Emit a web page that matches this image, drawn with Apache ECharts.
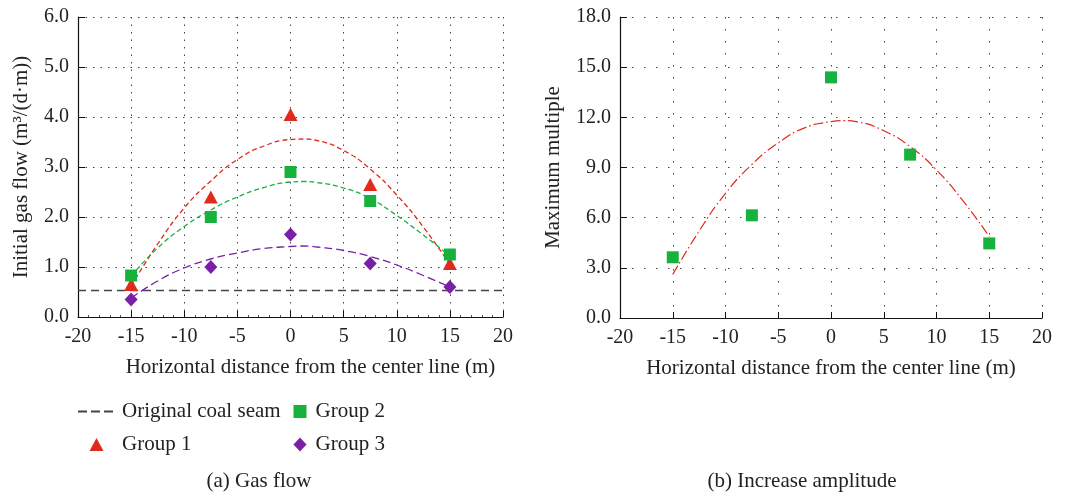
<!DOCTYPE html>
<html><head><meta charset="utf-8">
<script src="https://cdn.jsdelivr.net/npm/echarts@6/dist/echarts.min.js"></script>
<style>html,body{margin:0;padding:0;background:#fff}#c{width:1066px;height:496px}</style>
</head><body><div id="c"></div>
<script>
// Data
const xPos = [-15, -7.5, 0, 7.5, 15];
const group1 = [0.65, 2.4, 4.05, 2.65, 1.07];
const group2 = [0.83, 2.0, 2.9, 2.32, 1.25];
const group3 = [0.35, 1.0, 1.65, 1.07, 0.6];
const seamLevel = 0.53;
// fitted curves
const fitX = [-15, -12.5, -10, -7.5, -5, -2.5, 0, 1.25, 2.5, 5, 7.5, 10, 12.5, 15];
const fit1 = [0.62, 1.46, 2.18, 2.72, 3.15, 3.42, 3.55, 3.56, 3.53, 3.33, 2.96, 2.44, 1.80, 1.05];
const fit2 = [0.82, 1.38, 1.81, 2.14, 2.40, 2.59, 2.70, 2.71, 2.69, 2.58, 2.37, 2.03, 1.64, 1.22];
const fit3 = [0.38, 0.72, 0.98, 1.16, 1.28, 1.37, 1.41, 1.42, 1.40, 1.33, 1.21, 1.04, 0.83, 0.60];
const multiple = [3.63, 6.14, 14.39, 9.77, 4.46];
const fitMult = [2.6, 5.2, 7.45, 9.18, 10.47, 11.37, 11.74, 11.8, 11.73, 11.2, 10.25, 8.85, 7.02, 4.87];
const xTicks = [-20, 20, 5];

const pair = (xs, ys) => xs.map((x, i) => [x, ys[i]]);
const FONT = 'Liberation Serif';
const RED = '#e02a1c', GREEN = '#16b23b', PURPLE = '#7a20a6';
const TXT = '#222';

function xAxisCfg(gi, gridDash, minor) {
  return {
    gridIndex: gi, type: 'value', min: xTicks[0], max: xTicks[1], interval: xTicks[2],
    name: 'Horizontal distance from the center line (m)', nameLocation: 'middle', nameGap: 40,
    nameTextStyle: {fontFamily: FONT, fontSize: 21, color: TXT, padding: gi === 0 ? [0, 0, 0, 40] : 0},
    axisLine: {onZero: false, lineStyle: {color: '#111', width: 1.2}},
    axisTick: {inside: true, length: 6, lineStyle: {color: '#111'}},
    minorTick: {show: minor, splitNumber: 5, length: 2, lineStyle: {color: '#555'}},
    axisLabel: {fontFamily: FONT, fontSize: 20, color: TXT, margin: 10},
    splitLine: {show: true, lineStyle: {color: '#444', type: gridDash, width: 1}}
  };
}
function yAxisCfg(gi, max, interval, name, gap, gridDash) {
  return {
    gridIndex: gi, type: 'value', min: 0, max: max, interval: interval,
    name: name, nameLocation: 'middle', nameGap: gap,
    nameTextStyle: {fontFamily: FONT, fontSize: 21, color: TXT},
    axisLine: {show: true, onZero: false, lineStyle: {color: '#111', width: 1.2}},
    axisTick: {show: true, inside: true, length: 7, lineStyle: {color: '#111'}},
    axisLabel: {fontFamily: FONT, fontSize: 20, color: TXT, margin: 9, formatter: v => v.toFixed(1)},
    splitLine: {show: true, lineStyle: {color: '#444', type: gridDash, width: 1}}
  };
}

const legendText = pad => ({fontFamily: FONT, fontSize: 21, color: TXT, padding: [0, 0, 0, pad]});
const dashIcon = 'path://M0,0h9v2h-9z M13,0h9v2h-9z M26,0h9v2h-9z';

const option = {
  animation: false,
  backgroundColor: '#fff',
  grid: [
    {left: 78, top: 17, width: 425, height: 300},
    {left: 620, top: 17, width: 422, height: 301}
  ],
  xAxis: [xAxisCfg(0, [1.5, 6], true), xAxisCfg(1, [1.5, 10.5], false)],
  yAxis: [
    yAxisCfg(0, 6, 1, 'Initial gas flow (m³/(d·m))', 46, [1.5, 6]),
    yAxisCfg(1, 18, 3, 'Maximum multiple', 56, [1.5, 10.5])
  ],
  legend: [
    {left: 73, top: 396, itemWidth: 35, itemHeight: 2, itemGap: 0, textStyle: legendText(4),
     data: [{name: 'Original coal seam', icon: dashIcon}]},
    {left: 288.5, top: 396, itemWidth: 13, itemHeight: 13, itemGap: 0, textStyle: legendText(4),
     data: [{name: 'Group 2', icon: 'rect'}]},
    {left: 84.5, top: 429, itemWidth: 14, itemHeight: 13, itemGap: 0, textStyle: legendText(13.5),
     data: [{name: 'Group 1', icon: 'triangle'}]},
    {left: 288.5, top: 429, itemWidth: 13, itemHeight: 14, itemGap: 0, textStyle: legendText(4),
     data: [{name: 'Group 3', icon: 'diamond'}]}
  ],
  title: [
    {text: '(a) Gas flow', left: 254, top: 466, textAlign: 'center', textStyle: {fontFamily: FONT, fontSize: 21, fontWeight: 'normal', color: TXT}},
    {text: '(b) Increase amplitude', left: 797, top: 466, textAlign: 'center', textStyle: {fontFamily: FONT, fontSize: 21, fontWeight: 'normal', color: TXT}}
  ],
  series: [
    {name: 'Original coal seam', type: 'line', xAxisIndex: 0, yAxisIndex: 0,
     data: [[xTicks[0], seamLevel], [xTicks[1], seamLevel]], symbol: 'none',
     lineStyle: {color: '#444', width: 1.5, type: [8, 5]}, itemStyle: {color: '#444'}, z: 2},
    {name: 'fit1', type: 'line', xAxisIndex: 0, yAxisIndex: 0, data: pair(fitX, fit1), smooth: true, symbol: 'none',
     lineStyle: {color: RED, width: 1.3, type: [5, 3]}, z: 2},
    {name: 'fit2', type: 'line', xAxisIndex: 0, yAxisIndex: 0, data: pair(fitX, fit2), smooth: true, symbol: 'none',
     lineStyle: {color: GREEN, width: 1.3, type: [5, 3]}, z: 2},
    {name: 'fit3', type: 'line', xAxisIndex: 0, yAxisIndex: 0, data: pair(fitX, fit3), smooth: true, symbol: 'none',
     lineStyle: {color: PURPLE, width: 1.3, type: [8, 4]}, z: 2},
    {name: 'Group 1', type: 'scatter', xAxisIndex: 0, yAxisIndex: 0, data: pair(xPos, group1), symbol: 'triangle', symbolSize: [14, 13],
     itemStyle: {color: RED, opacity: 1}, z: 3},
    {name: 'Group 2', type: 'scatter', xAxisIndex: 0, yAxisIndex: 0, data: pair(xPos, group2), symbol: 'rect', symbolSize: 12,
     itemStyle: {color: GREEN, opacity: 1}, z: 4},
    {name: 'Group 3', type: 'scatter', xAxisIndex: 0, yAxisIndex: 0, data: pair(xPos, group3), symbol: 'diamond', symbolSize: [13, 14],
     itemStyle: {color: PURPLE, opacity: 1}, z: 5},
    {name: 'fitMult', type: 'line', xAxisIndex: 1, yAxisIndex: 1, data: pair(fitX, fitMult), smooth: true, symbol: 'none',
     lineStyle: {color: RED, width: 1.2, type: [10, 3, 1.5, 3]}, z: 2},
    {name: 'Multiple', type: 'scatter', xAxisIndex: 1, yAxisIndex: 1, data: pair(xPos, multiple), symbol: 'rect', symbolSize: 12,
     itemStyle: {color: GREEN, opacity: 1}, z: 4}
  ]
};
const chart = echarts.init(document.getElementById('c'), null, {renderer: 'canvas'});
chart.setOption(option);
</script></body></html>
